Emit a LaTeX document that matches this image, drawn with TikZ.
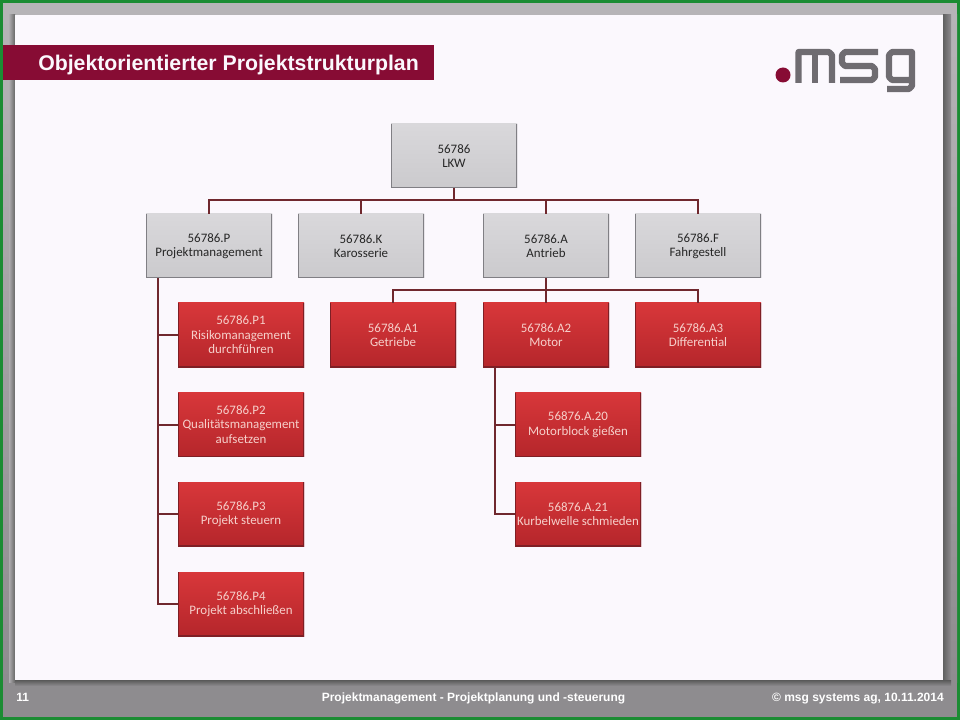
\documentclass[tikz,border=0pt]{standalone}
\usepackage{fontspec}
\setmainfont{Carlito}
\newfontfamily\arialf{Liberation Sans}
\usetikzlibrary{calc}
\definecolor{frameg}{HTML}{1B8C33}
\definecolor{bandg}{HTML}{8E8C8F}
\definecolor{topg}{HTML}{B6B4B7}
\definecolor{slidew}{HTML}{FBF8FD}
\definecolor{maroon}{HTML}{870C34}
\definecolor{conn}{HTML}{70282E}
\definecolor{logog}{HTML}{6F6C71}
\definecolor{graytop}{HTML}{D9D8DB}
\definecolor{graymid}{HTML}{D2D1D4}
\definecolor{graybot}{HTML}{CBCACD}
\definecolor{grayedge}{HTML}{807F84}
\definecolor{redtop}{HTML}{D8373A}
\definecolor{redmid}{HTML}{C92C30}
\definecolor{redbot}{HTML}{B5262B}
\definecolor{rededge}{HTML}{7E1F25}
\definecolor{redtext}{HTML}{F6D0CB}
\tikzset{
 x=0.75pt,y=-0.75pt,
 boxbase/.style={minimum width=94.5pt,minimum height=48pt,inner sep=0pt,align=center,font=\fontsize{9.7pt}{10.8pt}\selectfont},
 graybox/.style={boxbase,top color=graytop,middle color=graymid,bottom color=graybot,text=black!85,
   path picture={\draw[grayedge,line width=1.5pt] (path picture bounding box.north west) -- (path picture bounding box.south west) -- (path picture bounding box.south east) -- (path picture bounding box.north east);}},
 redbox/.style={boxbase,top color=redtop,middle color=redmid,bottom color=redbot,text=redtext,
   path picture={\draw[rededge,line width=1.5pt] (path picture bounding box.north west) -- (path picture bounding box.south west) -- (path picture bounding box.south east) -- (path picture bounding box.north east);}},
 conline/.style={draw=conn,line width=1.5pt},
 logostroke/.style={draw=logog,line width=4.6pt,line join=round},
 footer/.style={text=white,font=\arialf\bfseries\fontsize{9pt}{11pt}\selectfont,inner sep=0pt}
}
\begin{document}
\begin{tikzpicture}
\useasboundingbox (0,0) rectangle (960,720);
% frame and slide
\fill[frameg] (0,0) rectangle (960,720);
\fill[bandg] (3,3) rectangle (957,717);
\fill[topg] (3,3) rectangle (957,15);
\fill[top color=topg,bottom color=bandg] (3,15) rectangle (15,682);
\fill[top color=topg,bottom color=bandg] (945,15) rectangle (957,682);
\fill[left color=topg!80!bandg,right color=black!60] (9,15) rectangle (15,682);
\fill[left color=black!62,right color=bandg] (943,15) rectangle (951,682);
\fill[top color=black!65,bottom color=bandg] (15,680) rectangle (951,686);
\fill[slidew] (15,15) rectangle (943,680);
% title band
\fill[maroon] (3,45) rectangle (434,80);
\node[anchor=base west,text=slidew,inner sep=0pt,font=\arialf\bfseries\fontsize{15.95pt}{18pt}\selectfont] (title) at (38,71) {Objektorientierter Projektstrukturplan};
% logo
\fill[maroon] (783,75) circle (7.5);
\draw[logostroke] (798.5,83) -- (798.5,52) -- (829,52) -- (832,55) -- (832,83);
\draw[logostroke] (815,52) -- (815,83);
\draw[logostroke] (878,52) -- (845,52) -- (842,55) -- (842,63) -- (845,66) -- (872,66) -- (875,69) -- (875,77) -- (872,80) -- (840,80);
\draw[logostroke] (912,80) -- (892,80) -- (889,77) -- (889,55) -- (892,52) -- (912,52) -- (912,86) -- (909,89) -- (887,89);
% boxes
\node[graybox] (lkw) at (454,156) {56786\\LKW};
\node[graybox] (p) at (209,246) {56786.P\\Projektmanagement};
\node[graybox] (k) at (361,246) {56786.K\\Karosserie};
\node[graybox] (a) at (546,246) {56786.A\\Antrieb};
\node[graybox] (f) at (698,246) {56786.F\\Fahrgestell};
\node[redbox] (p1) at (241,335) {56786.P1\\Risikomanagement\\durchführen};
\node[redbox] (p2) at (241,424.5) {56786.P2\\Qualitätsmanagement\\aufsetzen};
\node[redbox] (p3) at (241,514) {56786.P3\\Projekt steuern};
\node[redbox] (p4) at (241,604) {56786.P4\\Projekt abschließen};
\node[redbox] (a1) at (393,335) {56786.A1\\Getriebe};
\node[redbox] (a2) at (546,335) {56786.A2\\Motor};
\node[redbox] (a3) at (698,335) {56786.A3\\Differential};
\node[redbox] (a20) at (578,424.5) {56876.A.20\\Motorblock gießen};
\node[redbox] (a21) at (578,514) {56876.A.21\\Kurbelwelle schmieden};
% connectors
\coordinate (bus1) at (454,200);
\coordinate (bus2) at (546,290);
\coordinate (ptrunk) at ($(p.south west)!0.095!(p.south east)$);
\coordinate (atrunk) at ($(a2.south west)!0.095!(a2.south east)$);
\draw[conline] (lkw.south) -- (bus1);
\draw[conline] (p.north) |- (bus1) -| (f.north);
\draw[conline] (k.north) -- (k.north |- bus1);
\draw[conline] (a.north) -- (a.north |- bus1);
\draw[conline] (a.south) -- (a2.north);
\draw[conline] (a1.north) |- (bus2) -| (a3.north);
\draw[conline] (ptrunk) |- (p4.west);
\draw[conline] (ptrunk |- p1.west) -- (p1.west);
\draw[conline] (ptrunk |- p2.west) -- (p2.west);
\draw[conline] (ptrunk |- p3.west) -- (p3.west);
\draw[conline] (atrunk) |- (a21.west);
\draw[conline] (atrunk |- a20.west) -- (a20.west);
% footer
\node[footer,anchor=base west] (fn) at (16,701) {11};
\node[footer,anchor=base] (fm) at (473.5,701) {Projektmanagement - Projektplanung und -steuerung};
\node[footer,anchor=base east] (fr) at (944,701) {© msg systems ag, 10.11.2014};
\end{tikzpicture}
\end{document}
